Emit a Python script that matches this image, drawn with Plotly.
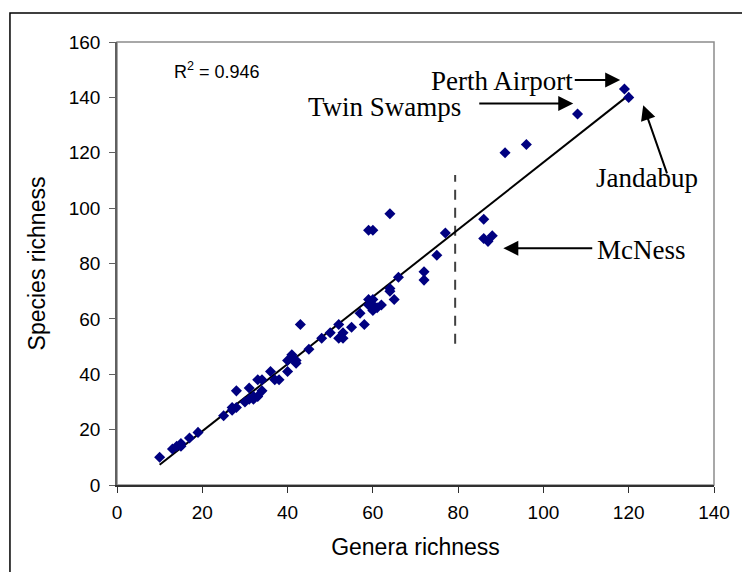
import plotly.graph_objects as go

genera = [10, 13, 14, 15, 15, 17, 19, 25, 27, 27, 28, 28, 30, 31, 32, 32, 33, 34, 31,
          33, 34, 36, 37, 38, 40, 40, 41, 41, 42, 42, 43, 45, 48, 50, 52, 52, 53, 53,
          55, 57, 58, 59, 59, 60, 60, 61, 62, 60, 59, 60, 64, 64, 64, 65, 66, 72, 72,
          75, 77, 86, 86, 87, 88, 91, 96, 108, 119, 120]
species = [10, 13, 14, 14, 15, 17, 19, 25, 27, 28, 28, 34, 30, 31, 31, 32, 32, 34, 35,
           38, 38, 41, 38, 38, 41, 45, 47, 46, 44, 45, 58, 49, 53, 55, 58, 53, 53, 55,
           57, 62, 58, 67, 65, 65, 63, 64, 65, 67, 92, 92, 98, 71, 70, 67, 75, 77, 74,
           83, 91, 96, 89, 88, 90, 120, 123, 134, 143, 140]

trend_x = [10, 120]
trend_y = [7.3, 140.8]
split_x = [79.3, 79.3]
split_y = [51, 112]

r2_label = "R<sup>2</sup> = 0.946"
x_ticks = [0, 20, 40, 60, 80, 100, 120, 140]
y_ticks = [0, 20, 40, 60, 80, 100, 120, 140, 160]

fig = go.Figure()
fig.add_trace(go.Scatter(x=split_x, y=split_y, mode="lines",
                         line=dict(color="#404040", width=2, dash="10px,8px"),
                         hoverinfo="skip"))
fig.add_trace(go.Scatter(x=trend_x, y=trend_y, mode="lines",
                         line=dict(color="black", width=2), hoverinfo="skip"))
fig.add_trace(go.Scatter(x=genera, y=species, mode="markers",
                         marker=dict(symbol="diamond", size=8.5, color="#000080",
                                     line=dict(width=0))))

serif = dict(family="Liberation Serif, Times New Roman, serif", size=27, color="black")
annos = []
annos.append(dict(x=90.2, y=145.9, text="Perth Airport", showarrow=False, font=serif,
                  xanchor="center", yanchor="middle"))
annos.append(dict(x=81.2, y=136.6, text="Twin Swamps", showarrow=False, font=serif,
                  xanchor="right", yanchor="middle"))
annos.append(dict(x=124.4, y=110.9, text="Jandabup", showarrow=False, font=serif,
                  xanchor="center", yanchor="middle"))
annos.append(dict(x=123.0, y=84.9, text="McNess", showarrow=False, font=serif,
                  xanchor="center", yanchor="middle"))
arrows = [(118.0, 146.3, 107.0, 146.3),
          (107.0, 137.8, 84.6, 137.8),
          (123.4, 137.2, 129.1, 112.0),
          (90.6, 85.5, 111.8, 85.5)]
for hx, hy, tx, ty in arrows:
    annos.append(dict(x=hx, y=hy, ax=tx, ay=ty, axref="x", ayref="y", text="",
                      showarrow=True, arrowhead=2, arrowsize=1.5, arrowwidth=2,
                      arrowcolor="black", standoff=0, startstandoff=0))
annos.append(dict(x=12.8, y=149.8, text=r2_label, showarrow=False,
                  font=dict(family="Liberation Sans, Arial, sans-serif", size=18, color="black"),
                  xanchor="left", yanchor="middle"))

fig.update_layout(
    width=742, height=572,
    margin=dict(l=117, r=20, t=42, b=87),
    paper_bgcolor="white", plot_bgcolor="white",
    showlegend=False,
    font=dict(family="Liberation Sans, Arial, sans-serif", size=19, color="black"),
    annotations=annos,
    shapes=[
        dict(type="rect", xref="paper", yref="paper", x0=0, y0=0, x1=1, y1=1,
             line=dict(color="#8c8c8c", width=1.5), layer="below"),
        dict(type="rect", xref="paper", yref="paper", x0=-0.1793, y0=-0.25, x1=1.06, y1=1.0655,
             line=dict(color="black", width=1.5), layer="below"),
    ],
)
fig.update_xaxes(range=[0, 140], tickvals=x_ticks, showgrid=False, zeroline=False,
                 showline=True, linecolor="#303030", linewidth=1.5,
                 ticks="outside", ticklen=6, tickcolor="#303030",
                 tickfont=dict(size=19), ticklabelstandoff=3,
                 title=dict(text="Genera richness", font=dict(size=23), standoff=17))
fig.update_yaxes(range=[0, 160], tickvals=y_ticks, showgrid=False, zeroline=False,
                 showline=True, linecolor="#606060", linewidth=1.5,
                 ticks="outside", ticklen=6, tickcolor="#606060",
                 tickfont=dict(size=19), ticklabelstandoff=5,
                 title=dict(text="Species richness", font=dict(size=23), standoff=17))

fig.write_html("out.html", config={"displayModeBar": False},
               post_script="document.body.style.margin='0px';document.body.style.overflow='hidden';")
